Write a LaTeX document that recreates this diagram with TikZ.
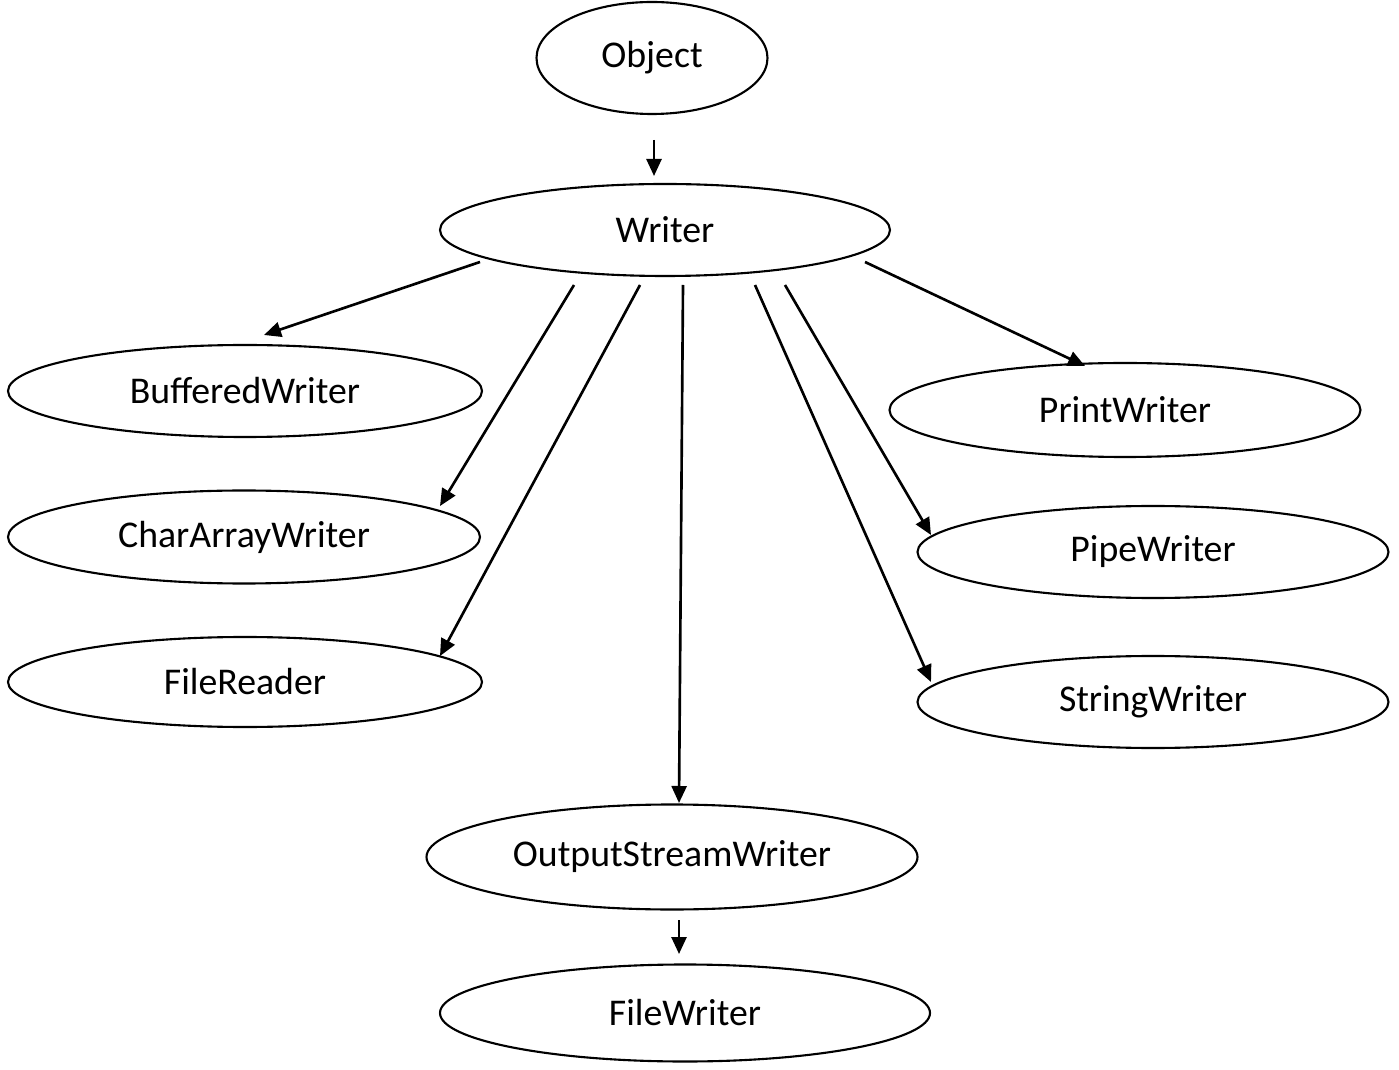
\documentclass[tikz,border=0pt]{standalone}
\usepackage{fontspec}
\setmainfont{Carlito}
\usetikzlibrary{shapes.geometric,arrows.meta}
\begin{document}
\begin{tikzpicture}[x=0.02cm,y=-0.02cm,
  cls/.style={draw,ellipse,line width=1.2pt,inner sep=0pt,font=\fontsize{21.5}{26}\selectfont},
  inh/.style={line width=1.5pt,-{Triangle[length=0.34cm,width=0.3cm]}}]
\useasboundingbox (0,0) rectangle (1399,1070);
% class nodes
\node[cls,minimum width=231*0.02cm,minimum height=112*0.02cm] (object) at (652,58) {Object};
\node[cls,minimum width=450*0.02cm,minimum height=92*0.02cm] (writer) at (665,230) {Writer};
\node[cls,minimum width=474*0.02cm,minimum height=92*0.02cm] (buffered) at (245,391) {BufferedWriter};
\node[cls,minimum width=472*0.02cm,minimum height=93*0.02cm] (chararray) at (244,537) {CharArrayWriter};
\node[cls,minimum width=474*0.02cm,minimum height=90*0.02cm] (filereader) at (245,682) {FileReader};
\node[cls,minimum width=471*0.02cm,minimum height=94*0.02cm] (print) at (1125,410) {PrintWriter};
\node[cls,minimum width=471*0.02cm,minimum height=92*0.02cm] (pipe) at (1153,552) {PipeWriter};
\node[cls,minimum width=471*0.02cm,minimum height=92*0.02cm] (string) at (1153,702) {StringWriter};
\node[cls,minimum width=491*0.02cm,minimum height=105*0.02cm] (osw) at (672,857) {\raisebox{0.1cm}{OutputStreamWriter}};
\node[cls,minimum width=490*0.02cm,minimum height=97*0.02cm] (filewriter) at (685,1013) {FileWriter};
% arrow end points
\coordinate (o1) at (654,140);   \coordinate (o2) at (654,176);
\coordinate (b1) at (480,262);   \coordinate (b2) at (264,335);
\coordinate (c1) at (574,285);   \coordinate (c2) at (440,506);
\coordinate (f1) at (640,285);   \coordinate (f2) at (440,656);
\coordinate (s1) at (683,285);   \coordinate (s2) at (679,803);
\coordinate (t1) at (755,285);   \coordinate (t2) at (931,682);
\coordinate (p1) at (785,285);   \coordinate (p2) at (931,535);
\coordinate (r1) at (865,262);   \coordinate (r2) at (1085,366);
\coordinate (w1) at (679,920);   \coordinate (w2) at (679,954);
% inheritance arrows
\draw[inh] (o1) -- (o2);
\draw[inh] (b1) -- (b2);
\draw[inh] (c1) -- (c2);
\draw[inh] (f1) -- (f2);
\draw[inh] (s1) -- (s2);
\draw[inh] (t1) -- (t2);
\draw[inh] (p1) -- (p2);
\draw[inh] (r1) -- (r2);
\draw[inh] (w1) -- (w2);
\end{tikzpicture}
\end{document}
